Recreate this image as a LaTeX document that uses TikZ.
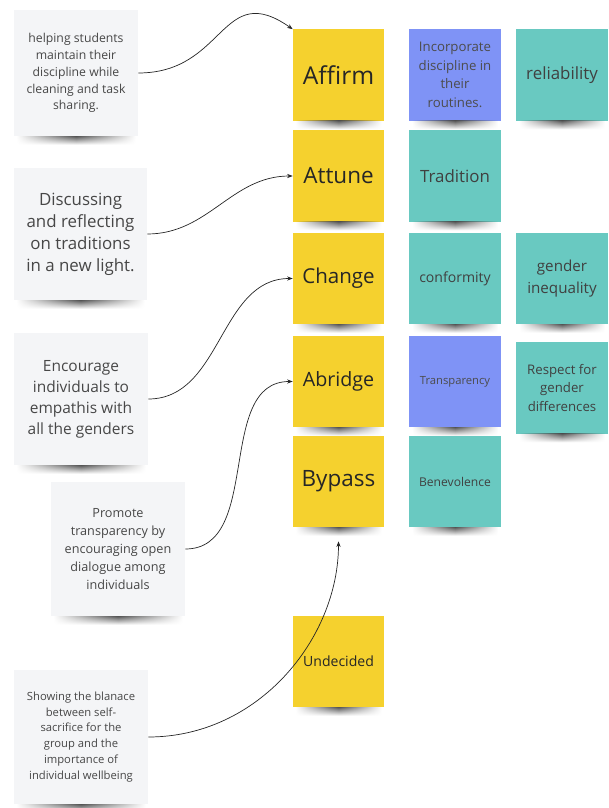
\documentclass[tikz,border=0pt]{standalone}
\usepackage{fontspec}
\setmainfont{Open Sans}
\usetikzlibrary{arrows.meta,fadings}
\definecolor{stickyyellow}{HTML}{F5D12E}
\definecolor{stickyblue}{HTML}{7F93F6}
\definecolor{stickyteal}{HTML}{69C9C1}
\definecolor{notegray}{HTML}{F4F5F7}
\definecolor{notetext}{HTML}{474747}
\tikzfading[name=fade sides, left color=transparent!100, right color=transparent!100, middle color=transparent!0]

\begin{document}
\begin{tikzpicture}[x=0.025cm, y=-0.025cm,
    gnote/.style={fill=notegray, text=notetext, inner sep=0pt, align=center},
    card/.style={minimum width=2.275cm, minimum height=2.275cm, inner sep=0pt, align=center},
    ynote/.style={card, fill=stickyyellow, text=black!85},
    pnote/.style={card, fill=stickyblue, text=black!70},
    tnote/.style={card, fill=stickyteal, text=black!75},
    link/.style={-{Stealth[length=4pt,width=3pt]}, line width=0.5pt, black!85}]
    \useasboundingbox (0,0) rectangle (608,808);

    % Left: notes
    \node[gnote, minimum width=3.1cm, minimum height=3.15cm, font=\fontsize{8.7}{12}\selectfont] (n1) at (76,73)
      {helping students\\maintain their\\discipline while\\cleaning and task\\sharing.};
    \node[gnote, minimum width=3.325cm, minimum height=3.3cm, font=\fontsize{12}{15.6}\selectfont] (n2) at (80.5,234)
      {Discussing\\and reflecting\\on traditions\\in a new light.};
    \node[gnote, minimum width=3.35cm, minimum height=3.3cm, font=\fontsize{11}{14.9}\selectfont] (n3) at (81,399)
      {Encourage\\individuals to\\empathis with\\all the genders};
    \node[gnote, minimum width=3.35cm, minimum height=3.35cm, font=\fontsize{9}{12.8}\selectfont] (n4) at (118,549)
      {Promote\\transparency by\\encouraging open\\dialogue among\\individuals};
    \node[gnote, minimum width=3.35cm, minimum height=3.35cm, font=\fontsize{8}{11.3}\selectfont] (n5) at (81,737)
      {Showing the blanace\\between self-\\sacrifice for the\\group and the\\importance of\\individual wellbeing};

    % Middle: strategies
    \node[ynote, font=\fontsize{17.5}{20}\selectfont] (aff) at (338.5,75) {Affirm};
    \node[ynote, font=\fontsize{16}{19}\selectfont] (att) at (338.5,176) {Attune};
    \node[ynote, font=\fontsize{14.6}{17}\selectfont] (chg) at (338.5,278.5) {Change};
    \node[ynote, font=\fontsize{14}{17}\selectfont] (abr) at (338.5,381.5) {Abridge};
    \node[ynote, font=\fontsize{16}{19}\selectfont] (byp) at (338.5,481.5) {Bypass};
    \node[ynote, font=\fontsize{10}{12}\selectfont] (und) at (338.5,661.5) {Undecided};

    % Right: values
    \node[pnote, font=\fontsize{9.4}{13.1}\selectfont] (inc) at (455,75) {Incorporate\\discipline in\\their\\routines.};
    \node[tnote, font=\fontsize{12}{14}\selectfont] (tra) at (455,176) {Tradition};
    \node[tnote, font=\fontsize{10}{12}\selectfont] (con) at (455,278.5) {conformity};
    \node[pnote, font=\fontsize{8}{10}\selectfont] (trn) at (455,381.5) {Transparency};
    \node[tnote, font=\fontsize{8.6}{10}\selectfont] (ben) at (455,481.5) {Benevolence};
    \node[tnote, font=\fontsize{12}{14}\selectfont] (rel) at (562,75) {reliability};
    \node[tnote, font=\fontsize{10.8}{15.4}\selectfont] (gin) at (562,278.5) {gender\\inequality};
    \node[tnote, font=\fontsize{9.4}{13}\selectfont] (res) at (562,388) {Respect for\\gender\\differences};

    % shadows under the notes
    \foreach \n in {n1,n2,n3,n4,n5,aff,att,chg,abr,byp,und,inc,tra,con,trn,ben,rel,gin,res}
      \shade[top color=black!65, bottom color=white, path fading=fade sides]
        ([xshift=2pt]\n.south west) rectangle ([xshift=-2pt,yshift=-6pt]\n.south east);

    \draw[link] (n1.east) to[out=0, in=145, looseness=1.4] (aff.north west);
    \draw[link] (n2.east) to[out=0, in=180] (att.west);
    \draw[link] (n3.east) to[out=0, in=180] (chg.west);
    \draw[link] (n4.east) to[out=0, in=180] (abr.west);
    \draw[link, shorten >=10pt] (n5.east) to[out=0, in=-90] (byp.south);
\end{tikzpicture}
\end{document}
